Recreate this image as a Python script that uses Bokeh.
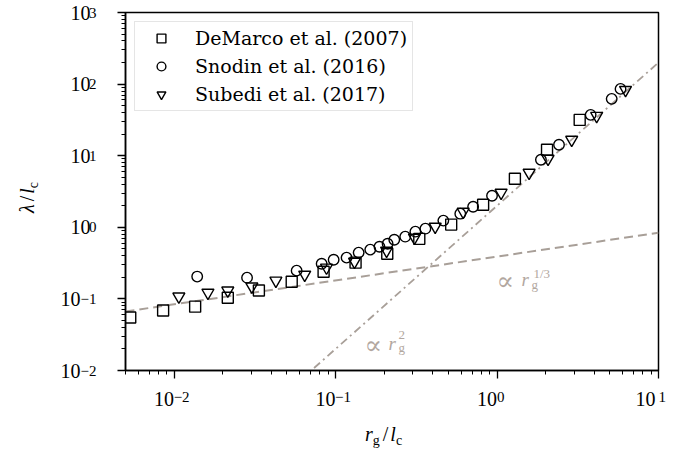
import numpy as np
from bokeh.plotting import figure
from bokeh.layouts import row, column
from bokeh.models import (Label, LogTicker, FixedTicker, CustomJSTickFormatter,
                          Legend, LegendItem, Range1d, Div, LogAxis)
from bokeh.embed import file_html
from bokeh.resources import INLINE

# ---------------- data ----------------
demarco_x = [0.00535, 0.00855, 0.0135, 0.0215, 0.0335, 0.0535, 0.0843, 0.133,
             0.209, 0.33, 0.52, 0.82, 1.29, 2.04, 3.25]
demarco_y = [0.055, 0.069, 0.078, 0.104, 0.131, 0.174, 0.24, 0.321,
             0.428, 0.69, 1.09, 2.07, 4.76, 12.1, 31.6]

snodin_x = [0.0139, 0.0283, 0.0574, 0.082, 0.0973, 0.117, 0.139, 0.164,
            0.187, 0.210, 0.231, 0.270, 0.312, 0.360, 0.465, 0.592, 0.711,
            0.931, 1.87, 2.42, 3.80, 5.13, 5.82]
snodin_y = [0.205, 0.198, 0.248, 0.310, 0.353, 0.377, 0.443, 0.488,
            0.536, 0.590, 0.671, 0.740, 0.869, 0.957, 1.24, 1.55, 1.94,
            2.76, 8.77, 14.2, 37.2, 62.2, 85.7]

subedi_x = [0.0107, 0.0162, 0.0215, 0.0303, 0.0427, 0.0644, 0.0879, 0.131,
            0.207, 0.308, 0.414, 0.617, 1.06, 1.58, 2.07, 2.90, 4.14, 6.25]
subedi_y = [0.108, 0.122, 0.131, 0.149, 0.180, 0.218, 0.274, 0.331,
            0.472, 0.716, 1.02, 1.65, 3.04, 5.78, 9.06, 16.7, 36.0, 83.0]

series_labels = ["DeMarco et al. (2007)", "Snodin et al. (2016)",
                 "Subedi et al. (2017)"]

# axis limits and decade tick exponents
x_limits = [0.005, 10.0]
y_limits = [0.01, 1000.0]
x_tick_exponents = [-2, -1, 0, 1]
y_tick_exponents = [-2, -1, 0, 1, 2, 3]

# power-law guide lines: lambda = coef * r^exp
guide_third_coef, guide_third_exp = 0.39, 1.0 / 3.0
guide_sq_coef, guide_sq_exp = 2.0, 2.0

# ---------------- layout constants ----------------
W, H = 675, 455
YLAB_W = 50                 # width of the y-label strip
XLAB_H = 35                 # height of the x-label strip
FIG_W, FIG_H = W - YLAB_W, H - XLAB_H
FL, FR, FT, FB = 125, 658, 12, 370      # frame edges in page px
GUIDE = "#a89f98"
GUIDE_TEXT = "#b2a79f"
SERIF = "Liberation Serif"

p = figure(width=FIG_W, height=FIG_H, x_axis_type="log", y_axis_type="log",
           x_range=Range1d(*x_limits), y_range=Range1d(*y_limits),
           output_backend="svg", toolbar_location=None,
           min_border_left=FL - YLAB_W, min_border_right=W - FR,
           min_border_top=FT, min_border_bottom=FIG_H - FB)
p.grid.visible = False
p.outline_line_color = "black"
p.outline_line_width = 1.5
p.outline_line_alpha = 1.0
p.background_fill_color = "white"
p.border_fill_color = "white"

EXP_JS = """
const e = Math.floor(Math.log10(tick) + 1e-6);
const s = String(e).replace("-", "\u2212");
"""
ybase_fmt = CustomJSTickFormatter(code=EXP_JS + 'return "10" + "\u2002".repeat(s.length);')
xbase_fmt = CustomJSTickFormatter(code=EXP_JS + 'return "10\u2002\u2002";')
xexp_fmt = CustomJSTickFormatter(code=EXP_JS + 'return "\u2002".repeat(s.length) + s;')
yexp_fmt = CustomJSTickFormatter(code=EXP_JS + 'return s;')

for ax in (p.xaxis[0], p.yaxis[0]):
    ax.ticker = LogTicker(num_minor_ticks=10)
    ax.axis_line_color = "black"
    ax.axis_line_width = 1.5
    ax.major_tick_in = 0
    ax.major_tick_out = 8
    ax.minor_tick_in = 0
    ax.minor_tick_out = 4
    ax.major_tick_line_width = 1.3
    ax.minor_tick_line_width = 1.0
    ax.major_tick_line_color = "black"
    ax.minor_tick_line_color = "black"
    ax.major_label_text_font = SERIF
    ax.major_label_text_font_size = "20px"
    ax.major_label_text_color = "black"
p.xaxis[0].formatter = xbase_fmt
p.yaxis[0].formatter = ybase_fmt
p.xaxis[0].major_label_standoff = 9
p.yaxis[0].major_label_standoff = 17

x_decades = [10.0 ** e for e in x_tick_exponents]
y_decades = [10.0 ** e for e in y_tick_exponents]


def exponent_axis(ticks, fmt, standoff):
    ax = LogAxis(ticker=FixedTicker(ticks=ticks, minor_ticks=[]),
                 formatter=fmt)
    ax.axis_line_alpha = 0
    ax.major_tick_in = 0
    ax.major_tick_out = 0
    ax.minor_tick_in = 0
    ax.minor_tick_out = 0
    ax.major_label_text_font = SERIF
    ax.major_label_text_font_size = "15px"
    ax.major_label_text_color = "black"
    ax.major_label_standoff = standoff
    return ax


p.add_layout(exponent_axis(x_decades, xexp_fmt, -24), "below")
yexp_axis = exponent_axis(y_decades, yexp_fmt, -39)
yexp_axis.major_label_text_baseline = "alphabetic"
p.add_layout(yexp_axis, "left")

# guide lines
lx = np.array(x_limits)
p.line(lx, guide_third_coef * lx ** guide_third_exp, line_color=GUIDE,
       line_width=2, line_dash="9 5")
p.line(lx, guide_sq_coef * lx ** guide_sq_exp, line_color=GUIDE,
       line_width=1.8, line_dash="8 4 2 4")

# data
marker_kw = dict(fill_alpha=0, line_color="black", line_width=1.4)
p.scatter(demarco_x, demarco_y, marker="square", size=11, **marker_kw)
p.scatter(snodin_x, snodin_y, marker="circle", size=10.5, **marker_kw)
p.scatter(subedi_x, subedi_y, marker="inverted_triangle", size=12, **marker_kw)

# legend entries (smaller markers, as in the reference legend)
nan = [np.nan]
l1 = p.scatter(nan, nan, marker="square", size=8, **marker_kw)
l2 = p.scatter(nan, nan, marker="circle", size=8, **marker_kw)
l3 = p.scatter(nan, nan, marker="inverted_triangle", size=9, **marker_kw)

legend = Legend(items=[LegendItem(label=series_labels[0], renderers=[l1]),
                       LegendItem(label=series_labels[1], renderers=[l2]),
                       LegendItem(label=series_labels[2], renderers=[l3])],
                location="top_left")
legend.label_text_font = "DejaVu Serif"
legend.label_text_font_size = "19px"
legend.label_text_color = "black"
legend.glyph_width = 42
legend.glyph_height = 22
legend.label_height = 22
legend.spacing = 6
legend.padding = 5
legend.label_standoff = 13
legend.margin = 9
legend.border_line_color = "#cccccc"
legend.border_line_width = 1.5
legend.background_fill_alpha = 0.8
p.add_layout(legend)


def put(cx, cy, text, size, style="normal", color="black", font=SERIF):
    """Text inside the frame; cx, cy are page pixels."""
    p.add_layout(Label(x=cx - FL, y=FB - cy, x_units="screen",
                       y_units="screen", text=text, text_font=font,
                       text_font_size=f"{size}px", text_font_style=style,
                       text_color=color, text_align="left",
                       text_baseline="alphabetic"))


# guide annotations
put(496, 280, "\u221d", 26, color=GUIDE_TEXT, font="DejaVu Serif")
put(521, 279, "r", 19, "italic", color=GUIDE_TEXT)
put(531, 284, "g", 13, color=GUIDE_TEXT)
put(533, 273, "1/3", 13, color=GUIDE_TEXT)

put(364, 344, "\u221d", 26, color=GUIDE_TEXT, font="DejaVu Serif")
put(388, 343, "r", 19, "italic", color=GUIDE_TEXT)
put(398, 334, "2", 13, color=GUIDE_TEXT)
put(398, 347, "g", 13, color=GUIDE_TEXT)

# axis titles as HTML text (real sub-scripts)
SUB = 'style="font-size:14px;position:relative;top:4px;"'
xlab_html = (
    f'<div style="position:relative;width:{W}px;height:{XLAB_H}px;'
    f'font-family:\'{SERIF}\',serif;color:black;">'
    f'<span style="position:absolute;left:365px;top:4px;font-size:20px;'
    f'line-height:20px;white-space:nowrap;">'
    f'<i>r</i><span {SUB}>g</span><span style="margin:0 2px 0 3px;">/</span>'
    f'<i>l</i><span {SUB}>c</span></span></div>')
ylab_html = (
    f'<div style="position:relative;width:{YLAB_W}px;height:{FIG_H}px;'
    f'font-family:\'{SERIF}\',serif;color:black;">'
    f'<span style="position:absolute;left:17px;top:213px;font-size:20px;'
    f'line-height:20px;white-space:nowrap;transform-origin:0 0;'
    f'transform:rotate(-90deg);">'
    f'<i>\u03bb</i><span style="margin:0 2px 0 3px;">/</span>'
    f'<i>l</i><span {SUB}>c</span></span></div>')

ylab = Div(text=ylab_html, width=YLAB_W, height=FIG_H, margin=(0, 0, 0, 0))
xlab = Div(text=xlab_html, width=W, height=XLAB_H, margin=(0, 0, 0, 0))

layout = column(row(ylab, p, spacing=0), xlab, spacing=0)

open("out.html", "w").write(file_html(layout, INLINE))
